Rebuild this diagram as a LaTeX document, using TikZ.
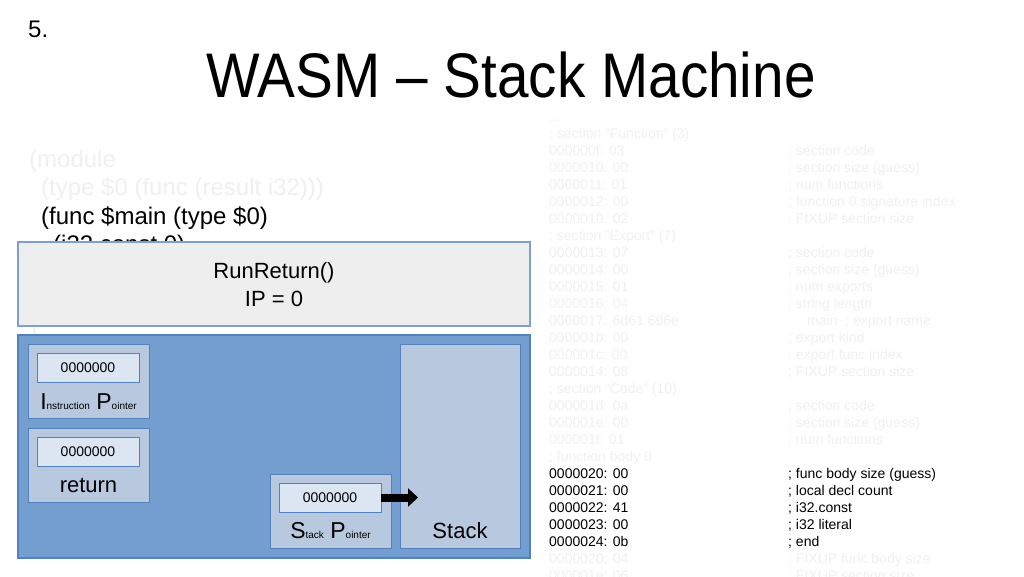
\documentclass[tikz,border=0pt]{standalone}
\usepackage{fontspec}
\setmainfont{Liberation Sans}
\usetikzlibrary{arrows.meta}
\definecolor{faint}{RGB}{240,240,240}
\definecolor{panelfill}{RGB}{238,238,238}
\definecolor{panelline}{RGB}{127,159,205}
\definecolor{machinefill}{RGB}{115,158,207}
\definecolor{machineline}{RGB}{84,128,190}
\definecolor{regfill}{RGB}{184,200,222}
\definecolor{valfill}{RGB}{220,230,242}
\newcommand{\fs}[1]{\fontsize{#1}{#1}\selectfont}

\tikzset{
  box/.style={draw=machineline, line width=1pt, inner sep=0pt, outer sep=0pt, anchor=north west},
  regbox/.style={box, fill=regfill, minimum width=121pt, minimum height=74pt},
  valbox/.style={box, fill=valfill, minimum width=102pt, minimum height=29pt, font=\fs{14}},
  hex/.style={anchor=base west, inner sep=0pt, font=\fs{14}},
  code/.style={anchor=base west, inner sep=0pt, font=\fs{24}},
  big/.style={anchor=base, inner sep=0pt, font=\fs{22}},
}

\begin{document}
\begin{tikzpicture}[x=1pt,y=-1pt]
    \useasboundingbox (0,0) rectangle (1024,576);
    \clip (0,0) rectangle (1024,576);
    \fill[white] (0,0) rectangle (1024,576);
    % title
    \node[anchor=base west, inner sep=0pt, font=\fs{24}] (num) at (28,37) {5.};
    \node[anchor=base, inner sep=0pt, font=\fs{63}] (title) at (511,97) {\scalebox{0.9}[1]{WASM -- Stack Machine}};
    % wat source
    \node[code, text=faint] (c1) at (29,167) {(module};
    \node[code, text=faint] (c2) at (41,195.5) {(type \$0 (func (result i32)))};
    \node[code] (c3) at (41,224) {(func \$main (type \$0)};
    \node[code] (c4) at (53,252.5) {(i32.const 0)};
    \node[code, text=faint] (c7) at (29,338) {)};
    % binary dump
    \node[hex, text=faint] (dots) at (549,121) {...};
    \node[hex, text=faint] (secfunc) at (549,138) {; section "Function" (3)};
    \node[hex, text=faint] (secexp) at (549,240) {; section "Export" (7)};
    \node[hex, text=faint] (seccode) at (549,393) {; section "Code" (10)};
    \node[hex, text=faint] (body) at (549,461) {; function body 0};
    \foreach \yy/\addr/\note in {155/000000f: 03/; section code, 172/0000010: 00/; section size (guess),
        189/0000011: 01/; num functions, 206/0000012: 00/; function 0 signature index,
        223/0000010: 02/; FIXUP section size, 257/0000013: 07/; section code,
        274/0000014: 00/; section size (guess), 291/0000015: 01/; num exports,
        308/0000016: 04/; string length, 342/000001b: 00/; export kind,
        359/000001c: 00/; export func index, 376/0000014: 08/; FIXUP section size,
        410/000001d: 0a/; section code, 427/000001e: 00/; section size (guess),
        444/000001f: 01/; num functions, 563/0000020: 04/; FIXUP func body size,
        580/000001e: 06/; FIXUP section size}{
        \node[hex, text=faint] (a\yy) at (549,\yy) {\addr};
        \node[hex, text=faint] (n\yy) at (788,\yy) {\note};
    }
    \node[hex, text=faint] (a325) at (549,325) {0000017: 6d61 696e};
    \node[hex, text=faint] (n325) at (807,325) {main\ \ ; export name};
    \foreach \yy/\addr/\note in {478/0000020: 00/; func body size (guess), 495/0000021: 00/; local decl count,
        512/0000022: 41/; i32.const, 529/0000023: 00/; i32 literal, 546/0000024: 0b/; end}{
        \node[hex] (a\yy) at (549,\yy) {\addr};
        \node[hex] (n\yy) at (788,\yy) {\note};
    }
    % call frame
    \node[box, draw=panelline, fill=panelfill, line width=1.2pt, minimum width=512pt, minimum height=84pt] (run) at (18,242) {};
    \node[big] (runname) at (274,278.3) {RunReturn()};
    \node[big] (runip) at (274,306.7) {IP = 0};
    % machine
    \node[box, fill=machinefill, line width=1.5pt, minimum width=512pt, minimum height=223pt] (machine) at (18,335) {};
    \node[regbox] (ipbox) at (28,344) {};
    \node[valbox] (ipval) at (37,353) {0000000};
    \node[anchor=base, inner sep=0pt] (iplabel) at (88.5,409) {\fs{23}I\fs{10}nstruction\fs{23} P\fs{10}ointer};
    \node[regbox] (retbox) at (28,428) {};
    \node[valbox] (retval) at (37,437) {0000000};
    \node[big] (retlabel) at (88.5,492) {return};
    \node[regbox] (spbox) at (270,474) {};
    \node[valbox] (spval) at (279,483) {0000000};
    \node[anchor=base, inner sep=0pt] (splabel) at (330.5,538) {\fs{23}S\fs{10}tack\fs{23} P\fs{10}ointer};
    \node[box, fill=regfill, minimum width=120pt, minimum height=204pt] (stack) at (400,344) {};
    \node[big] (stacklabel) at (460,538) {Stack};
    \coordinate (sptip) at ([xshift=37pt]spval.east);
    \draw[line width=8pt, -{Triangle[width=18pt,length=10pt]}] (spval.east) -- (sptip);
\end{tikzpicture}
\end{document}
